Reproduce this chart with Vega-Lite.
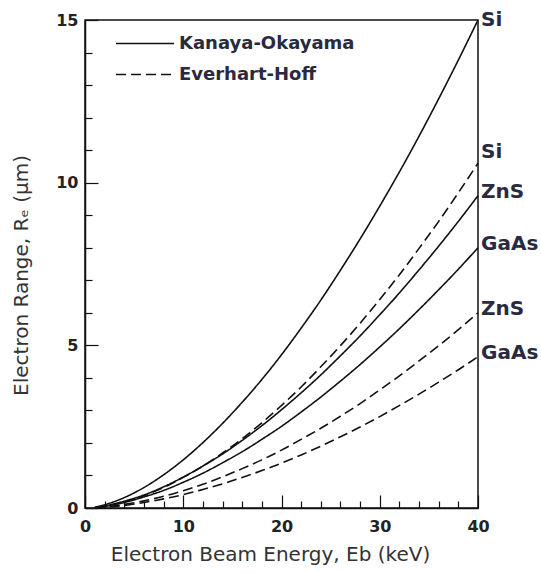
{
  "$schema": "https://vega.github.io/schema/vega-lite/v6.json",
  "width": 393,
  "height": 488,
  "autosize": {"type": "none"},
  "padding": {"left": 85, "top": 20, "right": 63, "bottom": 65},
  "background": "white",
  "config": {
    "view": {"stroke": "#111", "strokeWidth": 1.5},
    "font": "DejaVu Sans",
    "axis": {
      "grid": false,
      "domainColor": "#111",
      "domainWidth": 1.5,
      "tickColor": "#111",
      "tickWidth": 1.2,
      "labelOverlap": false,
      "labelFlush": false,
      "labelBound": false,
      "labelFont": "DejaVu Sans",
      "labelFontSize": 16,
      "labelFontWeight": "bold",
      "labelColor": "#222",
      "titleFont": "DejaVu Sans",
      "titleFontSize": 20,
      "titleFontWeight": "normal",
      "titleColor": "#333"
    }
  },
  "resolve": {"axis": {"x": "independent", "y": "independent"}},
  "datasets": {
    "curves": [
      {"E": 1, "Si_KO": 0.02, "ZnS_KO": 0.01, "GaAs_KO": 0.01, "Si_EH": 0.01, "ZnS_EH": 0.0, "GaAs_EH": 0.0},
      {"E": 2, "Si_KO": 0.10, "ZnS_KO": 0.06, "GaAs_KO": 0.05, "Si_EH": 0.06, "ZnS_EH": 0.03, "GaAs_EH": 0.02},
      {"E": 4, "Si_KO": 0.32, "ZnS_KO": 0.21, "GaAs_KO": 0.17, "Si_EH": 0.19, "ZnS_EH": 0.11, "GaAs_EH": 0.08},
      {"E": 6, "Si_KO": 0.63, "ZnS_KO": 0.40, "GaAs_KO": 0.34, "Si_EH": 0.38, "ZnS_EH": 0.22, "GaAs_EH": 0.17},
      {"E": 8, "Si_KO": 1.02, "ZnS_KO": 0.65, "GaAs_KO": 0.54, "Si_EH": 0.63, "ZnS_EH": 0.36, "GaAs_EH": 0.28},
      {"E": 10, "Si_KO": 1.48, "ZnS_KO": 0.95, "GaAs_KO": 0.79, "Si_EH": 0.94, "ZnS_EH": 0.53, "GaAs_EH": 0.41},
      {"E": 12, "Si_KO": 2.01, "ZnS_KO": 1.29, "GaAs_KO": 1.07, "Si_EH": 1.29, "ZnS_EH": 0.73, "GaAs_EH": 0.57},
      {"E": 14, "Si_KO": 2.60, "ZnS_KO": 1.66, "GaAs_KO": 1.39, "Si_EH": 1.69, "ZnS_EH": 0.96, "GaAs_EH": 0.74},
      {"E": 16, "Si_KO": 3.25, "ZnS_KO": 2.08, "GaAs_KO": 1.73, "Si_EH": 2.13, "ZnS_EH": 1.21, "GaAs_EH": 0.94},
      {"E": 18, "Si_KO": 3.95, "ZnS_KO": 2.53, "GaAs_KO": 2.11, "Si_EH": 2.62, "ZnS_EH": 1.48, "GaAs_EH": 1.15},
      {"E": 20, "Si_KO": 4.71, "ZnS_KO": 3.02, "GaAs_KO": 2.51, "Si_EH": 3.15, "ZnS_EH": 1.78, "GaAs_EH": 1.38},
      {"E": 22, "Si_KO": 5.53, "ZnS_KO": 3.54, "GaAs_KO": 2.95, "Si_EH": 3.72, "ZnS_EH": 2.11, "GaAs_EH": 1.63},
      {"E": 24, "Si_KO": 6.39, "ZnS_KO": 4.09, "GaAs_KO": 3.41, "Si_EH": 4.34, "ZnS_EH": 2.45, "GaAs_EH": 1.90},
      {"E": 26, "Si_KO": 7.31, "ZnS_KO": 4.68, "GaAs_KO": 3.90, "Si_EH": 4.99, "ZnS_EH": 2.82, "GaAs_EH": 2.19},
      {"E": 28, "Si_KO": 8.27, "ZnS_KO": 5.29, "GaAs_KO": 4.41, "Si_EH": 5.68, "ZnS_EH": 3.21, "GaAs_EH": 2.49},
      {"E": 30, "Si_KO": 9.28, "ZnS_KO": 5.94, "GaAs_KO": 4.95, "Si_EH": 6.41, "ZnS_EH": 3.63, "GaAs_EH": 2.81},
      {"E": 32, "Si_KO": 10.33, "ZnS_KO": 6.61, "GaAs_KO": 5.51, "Si_EH": 7.17, "ZnS_EH": 4.06, "GaAs_EH": 3.15},
      {"E": 34, "Si_KO": 11.43, "ZnS_KO": 7.32, "GaAs_KO": 6.10, "Si_EH": 7.98, "ZnS_EH": 4.52, "GaAs_EH": 3.50},
      {"E": 36, "Si_KO": 12.58, "ZnS_KO": 8.05, "GaAs_KO": 6.71, "Si_EH": 8.81, "ZnS_EH": 4.99, "GaAs_EH": 3.87},
      {"E": 38, "Si_KO": 13.77, "ZnS_KO": 8.81, "GaAs_KO": 7.34, "Si_EH": 9.69, "ZnS_EH": 5.48, "GaAs_EH": 4.25},
      {"E": 40, "Si_KO": 15.0, "ZnS_KO": 9.6, "GaAs_KO": 8.0, "Si_EH": 10.6, "ZnS_EH": 6.0, "GaAs_EH": 4.65}
    ],
    "labels": [
      {"label": "Si", "E": 40, "R": 15.0},
      {"label": "Si", "E": 40, "R": 10.95},
      {"label": "ZnS", "E": 40, "R": 9.7},
      {"label": "GaAs", "E": 40, "R": 8.1},
      {"label": "ZnS", "E": 40, "R": 6.12},
      {"label": "GaAs", "E": 40, "R": 4.75}
    ]
  },
  "layer": [
    {
      "data": {"name": "curves"},
      "transform": [{"fold": ["Si_KO", "ZnS_KO", "GaAs_KO"], "as": ["curve", "R"]}],
      "mark": {"type": "line", "strokeWidth": 1.6, "color": "#111", "interpolate": "monotone"},
      "encoding": {
        "x": {
          "field": "E", "type": "quantitative",
          "scale": {"domain": [0, 40], "nice": false},
          "axis": {
            "orient": "bottom",
            "values": [0, 10, 20, 30, 40],
            "tickSize": -13,
            "labelPadding": 23,
            "title": "Electron Beam Energy, Eb (keV)",
            "titlePadding": 10,
            "titleX": 185
          }
        },
        "y": {
          "field": "R", "type": "quantitative",
          "scale": {"domain": [0, 15], "nice": false},
          "axis": {
            "orient": "left",
            "values": [0, 5, 10, 15],
            "tickSize": -13,
            "labelPadding": 20,
            "title": "Electron Range, Rₑ (μm)",
            "titlePadding": 24,
            "titleY": 255
          }
        },
        "detail": {"field": "curve"},
        "strokeDash": {
          "datum": "Kanaya-Okayama", "type": "nominal",
          "scale": {"domain": ["Kanaya-Okayama", "Everhart-Hoff"], "range": [[1, 0], [10, 5]]},
          "legend": {
            "orient": "none",
            "legendX": 30,
            "legendY": 8,
            "title": null,
            "symbolType": "M-1,0H3",
            "symbolSize": 841,
            "symbolStrokeWidth": 1.6,
            "symbolStrokeColor": "#111",
            "symbolFillColor": "transparent",
            "labelFont": "DejaVu Sans",
            "labelFontSize": 18,
            "labelFontWeight": "bold",
            "labelColor": "#2a2a3e",
            "labelOffset": 33,
            "labelLimit": 0,
            "rowPadding": 6
          }
        }
      }
    },
    {
      "data": {"name": "curves"},
      "transform": [{"fold": ["Si_EH", "ZnS_EH", "GaAs_EH"], "as": ["curve", "R"]}],
      "mark": {"type": "line", "strokeWidth": 1.6, "color": "#111", "interpolate": "monotone"},
      "encoding": {
        "x": {
          "field": "E", "type": "quantitative",
          "axis": {
            "orient": "bottom",
            "values": [2, 4, 6, 8, 12, 14, 16, 18, 22, 24, 26, 28, 32, 34, 36, 38],
            "tickSize": -7,
            "labels": false,
            "domain": false,
            "title": null
          }
        },
        "y": {
          "field": "R", "type": "quantitative",
          "axis": {
            "orient": "left",
            "values": [1, 2, 3, 4, 6, 7, 8, 9, 11, 12, 13, 14],
            "tickSize": -7,
            "labels": false,
            "domain": false,
            "title": null
          }
        },
        "detail": {"field": "curve"},
        "strokeDash": {"datum": "Everhart-Hoff", "type": "nominal"}
      }
    },
    {
      "data": {"name": "labels"},
      "mark": {"type": "text", "align": "left", "baseline": "middle", "dx": 3, "fontSize": 20, "fontWeight": "bold", "font": "DejaVu Sans", "color": "#2a2a3e"},
      "encoding": {
        "x": {"field": "E", "type": "quantitative", "axis": null},
        "y": {"field": "R", "type": "quantitative", "axis": null},
        "text": {"field": "label"}
      }
    }
  ]
}
